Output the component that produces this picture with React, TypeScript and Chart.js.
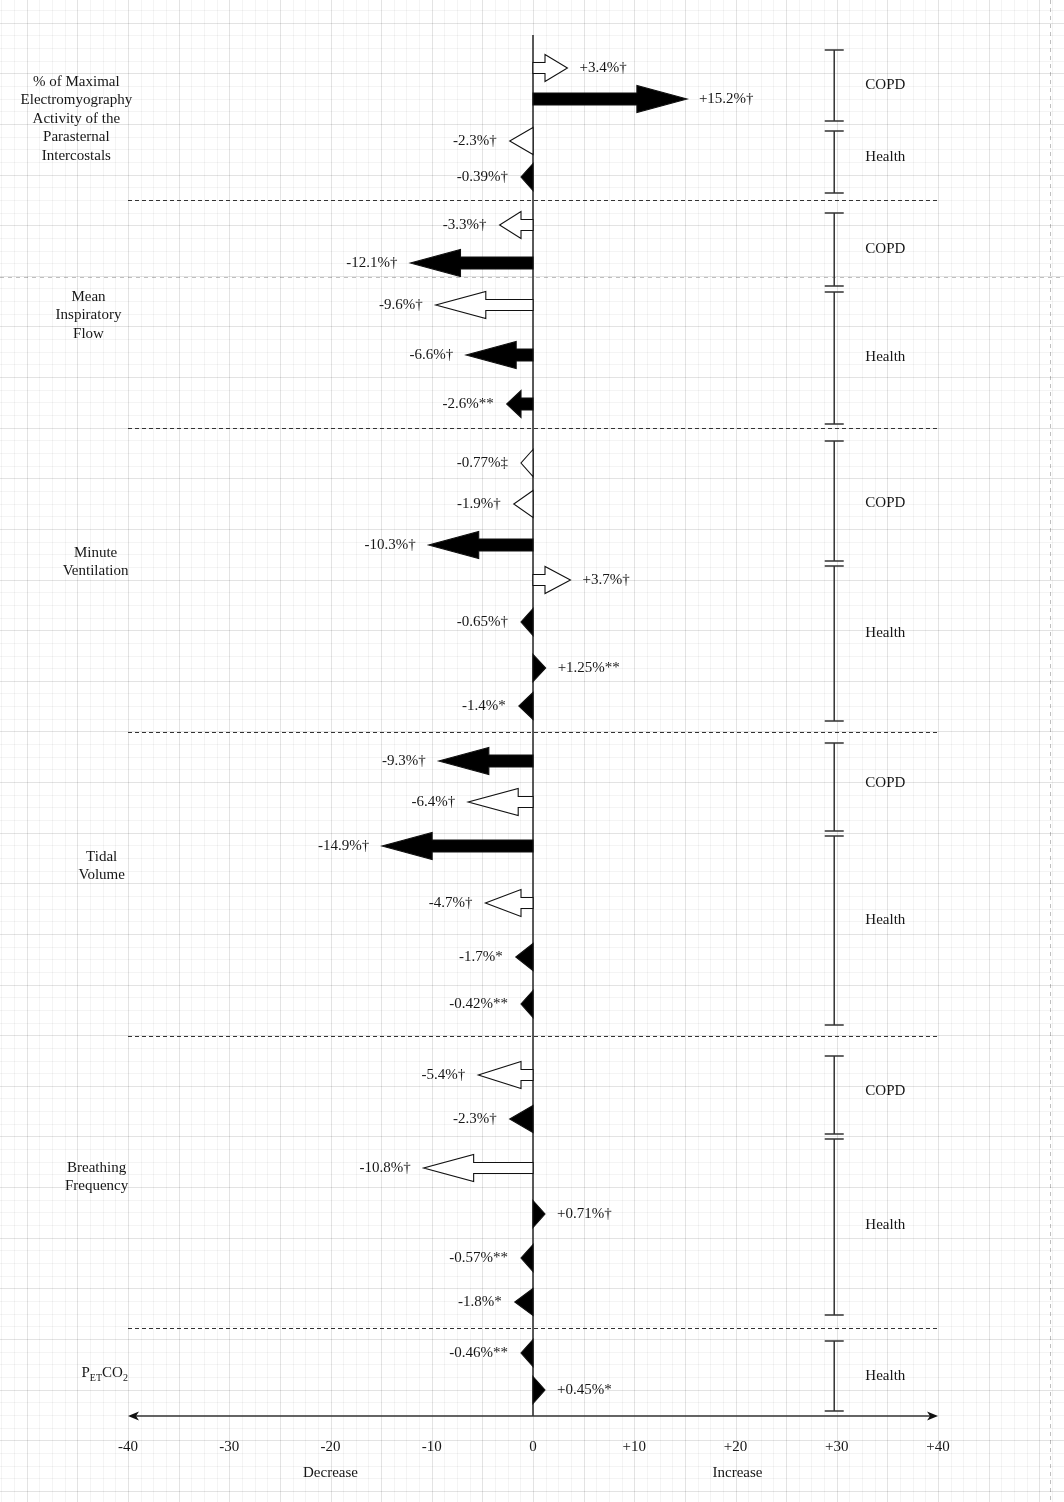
import React, { useEffect, useRef } from "react";
import { Chart, registerables } from "chart.js";

Chart.register(...registerables);

// ---------------- data ----------------
const arrowValues = [
  3.4, 15.2, -2.3, -0.39,
  -3.3, -12.1, -9.6, -6.6, -2.6,
  -0.77, -1.9, -10.3, 3.7, -0.65, 1.25, -1.4,
  -9.3, -6.4, -14.9, -4.7, -1.7, -0.42,
  -5.4, -2.3, -10.8, 0.71, -0.57, -1.8,
  -0.46, 0.45,
];
const arrowLabels = [
  "+3.4%†", "+15.2%†", "-2.3%†", "-0.39%†",
  "-3.3%†", "-12.1%†", "-9.6%†", "-6.6%†", "-2.6%**",
  "-0.77%‡", "-1.9%†", "-10.3%†", "+3.7%†", "-0.65%†", "+1.25%**", "-1.4%*",
  "-9.3%†", "-6.4%†", "-14.9%†", "-4.7%†", "-1.7%*", "-0.42%**",
  "-5.4%†", "-2.3%†", "-10.8%†", "+0.71%†", "-0.57%**", "-1.8%*",
  "-0.46%**", "+0.45%*",
];
const arrowFilled = [
  false, true, false, true,
  false, true, false, true, true,
  false, false, true, false, true, true, true,
  true, false, true, false, true, true,
  false, true, false, true, true, true,
  true, true,
];
// vertical row of each arrow (diagram units)
const arrowRows = [
  68, 99, 141, 177,
  225, 263, 305, 355, 404,
  463, 504, 545, 580, 622, 668, 706,
  761, 802, 846, 903, 957, 1004,
  1075, 1119, 1168, 1214, 1258, 1302,
  1353, 1390,
];

const measureNames = [
  ["% of Maximal", "Electromyography", "Activity of the", "Parasternal", "Intercostals"],
  ["Mean", "Inspiratory", "Flow"],
  ["Minute", "Ventilation"],
  ["Tidal", "Volume"],
  ["Breathing", "Frequency"],
  ["PETCO2"],
];
const measureX = [-45.1, -43.9, -43.2, -42.6, -43.1, -42.3];
const measureRowY = [82, 297, 553, 857, 1168, 1373];

const separatorRows = [200, 428, 732, 1036, 1328];

const groupNames = ["COPD", "Health", "COPD", "Health", "COPD", "Health", "COPD", "Health", "COPD", "Health", "Health"];
const groupTop = [50, 131, 213, 292, 441, 566, 743, 836, 1056, 1139, 1341];
const groupBottom = [121, 193, 286, 424, 561, 721, 831, 1025, 1134, 1315, 1411];
const groupLabelY = [85, 157, 249, 357, 503, 633, 783, 920, 1091, 1225, 1376];

const tickValues = [-40, -30, -20, -10, 0, 10, 20, 30, 40];
const tickLabels = ["-40", "-30", "-20", "-10", "0", "+10", "+20", "+30", "+40"];
const directionLabels = ["Decrease", "Increase"];
const directionX = [-20, 20.2];

const FONT = '15px "Liberation Serif", "Times New Roman", serif';
const TEXT = "#161616";

function drawArrow(ctx: CanvasRenderingContext2D, x0: number, xEnd: number, yc: number, filled: boolean) {
  const dir = xEnd >= x0 ? 1 : -1;
  let len = Math.abs(xEnd - x0);
  len = Math.max(len, 12);
  const tip = x0 + dir * len;
  const headH = 13.5;
  const shaftH = filled ? 6 : 5.5;
  let headLen: number;
  if (len <= 26) headLen = len;
  else headLen = Math.min(50, len - 12);
  const base = tip - dir * headLen;
  ctx.beginPath();
  if (headLen >= len) {
    ctx.moveTo(x0, yc - headH);
    ctx.lineTo(tip, yc);
    ctx.lineTo(x0, yc + headH);
    ctx.closePath();
  } else {
    ctx.moveTo(x0, yc - shaftH);
    ctx.lineTo(base, yc - shaftH);
    ctx.lineTo(base, yc - headH);
    ctx.lineTo(tip, yc);
    ctx.lineTo(base, yc + headH);
    ctx.lineTo(base, yc + shaftH);
    ctx.lineTo(x0, yc + shaftH);
    ctx.closePath();
  }
  ctx.fillStyle = filled ? "#000" : "#fff";
  ctx.fill();
  ctx.lineWidth = 1.1;
  ctx.strokeStyle = "#111";
  ctx.lineJoin = "miter";
  ctx.stroke();
  return tip;
}

const diagramPlugin = {
  id: "diagram",
  beforeDraw(chart: any) {
    const { ctx, scales } = chart;
    const xs = scales.x;
    const ys = scales.y;
    const W = chart.width;
    const H = chart.height;
    ctx.save();
    ctx.fillStyle = "#fff";
    ctx.fillRect(0, 0, W, H);
    // page grid (minor every 1.25 units, major every 5)
    for (let k = -60; k <= 60; k++) {
      const px = Math.round(xs.getPixelForValue(k * 1.25)) + 0.5;
      if (px < 0 || px > W) continue;
      ctx.strokeStyle = k % 4 === 0 ? "rgba(0,0,0,0.11)" : "rgba(0,0,0,0.045)";
      ctx.lineWidth = 1;
      ctx.beginPath();
      ctx.moveTo(px, 0);
      ctx.lineTo(px, H);
      ctx.stroke();
    }
    const cell = xs.getPixelForValue(1.25) - xs.getPixelForValue(0);
    const y0 = ys.getPixelForValue(22.7);
    for (let k = -2; k < 130; k++) {
      const py = Math.round(y0 + k * cell) + 0.5;
      if (py < 0 || py > H) continue;
      ctx.strokeStyle = k % 4 === 0 ? "rgba(0,0,0,0.11)" : "rgba(0,0,0,0.045)";
      ctx.beginPath();
      ctx.moveTo(0, py);
      ctx.lineTo(W, py);
      ctx.stroke();
    }
    // page-break lines
    ctx.strokeStyle = "rgba(0,0,0,0.25)";
    ctx.setLineDash([4, 4]);
    const pbY = Math.round(ys.getPixelForValue(277)) + 0.5;
    ctx.beginPath();
    ctx.moveTo(0, pbY);
    ctx.lineTo(W, pbY);
    ctx.stroke();
    const pbX = Math.round(xs.getPixelForValue(51.1)) + 0.5;
    ctx.beginPath();
    ctx.moveTo(pbX, 0);
    ctx.lineTo(pbX, H);
    ctx.stroke();
    ctx.restore();
  },
  afterDatasetsDraw(chart: any) {
    const { ctx, scales } = chart;
    const xs = scales.x;
    const ys = scales.y;
    const x0 = xs.getPixelForValue(0);
    const xL = xs.getPixelForValue(-40);
    const xR = xs.getPixelForValue(40);
    const axisY = ys.getPixelForValue(1416);
    ctx.save();

    // dashed separators
    ctx.strokeStyle = "#333";
    ctx.lineWidth = 1;
    ctx.setLineDash([4, 3]);
    separatorRows.forEach((r) => {
      const py = Math.round(ys.getPixelForValue(r)) + 0.5;
      ctx.beginPath();
      ctx.moveTo(xL, py);
      ctx.lineTo(xR, py);
      ctx.stroke();
    });
    ctx.setLineDash([]);

    // zero line
    ctx.strokeStyle = "#333";
    ctx.lineWidth = 1.6;
    ctx.beginPath();
    ctx.moveTo(x0, ys.getPixelForValue(35));
    ctx.lineTo(x0, axisY);
    ctx.stroke();

    // horizontal axis with arrowheads
    ctx.beginPath();
    ctx.moveTo(xL + 4, axisY);
    ctx.lineTo(xR - 4, axisY);
    ctx.stroke();
    ctx.fillStyle = "#111";
    [
      [xL, 1],
      [xR, -1],
    ].forEach(([tx, d]) => {
      ctx.beginPath();
      ctx.moveTo(tx, axisY);
      ctx.lineTo(tx + d * 11, axisY - 4.5);
      ctx.lineTo(tx + d * 8, axisY);
      ctx.lineTo(tx + d * 11, axisY + 4.5);
      ctx.closePath();
      ctx.fill();
    });

    // arrows + labels
    ctx.font = FONT;
    ctx.textBaseline = "middle";
    arrowValues.forEach((v, i) => {
      const yc = ys.getPixelForValue(arrowRows[i]);
      const tip = drawArrow(ctx, x0, xs.getPixelForValue(v), yc, arrowFilled[i]);
      ctx.fillStyle = TEXT;
      if (v < 0) {
        ctx.textAlign = "right";
        ctx.fillText(arrowLabels[i], tip - 13, yc);
      } else {
        ctx.textAlign = "left";
        ctx.fillText(arrowLabels[i], tip + 12, yc);
      }
    });

    // brackets
    const bx = xs.getPixelForValue(29.75);
    ctx.strokeStyle = "#333";
    ctx.lineWidth = 1.5;
    groupNames.forEach((g, i) => {
      const t = ys.getPixelForValue(groupTop[i]);
      const b = ys.getPixelForValue(groupBottom[i]);
      ctx.beginPath();
      ctx.moveTo(bx, t);
      ctx.lineTo(bx, b);
      ctx.moveTo(bx - 9.5, t);
      ctx.lineTo(bx + 9.5, t);
      ctx.moveTo(bx - 9.5, b);
      ctx.lineTo(bx + 9.5, b);
      ctx.stroke();
      ctx.fillStyle = TEXT;
      ctx.textAlign = "center";
      ctx.fillText(g, xs.getPixelForValue(34.8), ys.getPixelForValue(groupLabelY[i]));
    });

    // measure names
    ctx.textAlign = "center";
    measureNames.forEach((lines, i) => {
      const cx = xs.getPixelForValue(measureX[i]);
      lines.forEach((ln, j) => {
        const py = ys.getPixelForValue(measureRowY[i] + j * 18.4);
        if (ln === "PETCO2") {
          const big = FONT;
          const small = '10px "Liberation Serif", "Times New Roman", serif';
          const parts: [string, boolean][] = [["P", false], ["ET", true], ["CO", false], ["2", true]];
          let total = 0;
          parts.forEach(([s, sub]) => {
            ctx.font = sub ? small : big;
            total += ctx.measureText(s).width;
          });
          let x = cx - total / 2;
          ctx.textAlign = "left";
          parts.forEach(([s, sub]) => {
            ctx.font = sub ? small : big;
            ctx.fillText(s, x, sub ? py + 5 : py);
            x += ctx.measureText(s).width;
          });
          ctx.font = FONT;
          ctx.textAlign = "center";
        } else {
          ctx.fillText(ln, cx, py);
        }
      });
    });

    // tick labels
    ctx.textAlign = "center";
    tickValues.forEach((t, i) => {
      ctx.fillText(tickLabels[i], xs.getPixelForValue(t), ys.getPixelForValue(1447));
    });
    directionLabels.forEach((d, i) => {
      ctx.fillText(d, xs.getPixelForValue(directionX[i]), ys.getPixelForValue(1473));
    });
    ctx.restore();
  },
};

export default function App() {
  const ref = useRef<HTMLCanvasElement | null>(null);
  useEffect(() => {
    if (!ref.current) return;
    const chart = new Chart(ref.current, {
      type: "scatter",
      data: {
        datasets: [
          {
            data: arrowValues.map((v, i) => ({ x: v, y: arrowRows[i] })),
            pointRadius: 0,
            pointHoverRadius: 0,
          },
        ],
      },
      options: {
        responsive: false,
        maintainAspectRatio: false,
        animation: false,
        devicePixelRatio: 1,
        layout: { padding: 0 },
        events: [],
        plugins: { legend: { display: false }, tooltip: { enabled: false } },
        scales: {
          x: { type: "linear", min: -40 - 128 / 10.125, max: 40 + 126 / 10.125, display: false },
          y: { type: "linear", min: 0, max: 1502, reverse: true, display: false },
        },
      },
      plugins: [diagramPlugin],
    } as any);
    return () => chart.destroy();
  }, []);
  return (
    <div style={{ position: "absolute", left: 0, top: 0, width: 1064, height: 1502, background: "#fff" }}>
      <canvas ref={ref} width={1064} height={1502} style={{ display: "block", width: 1064, height: 1502 }} />
    </div>
  );
}
